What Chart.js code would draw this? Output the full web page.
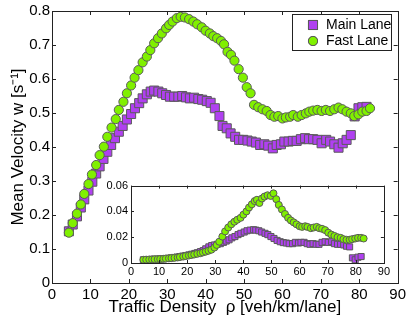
<!DOCTYPE html>
<html><head><meta charset="utf-8">
<script src="https://cdn.jsdelivr.net/npm/chart.js@4/dist/chart.umd.min.js"></script>
<style>
html,body{margin:0;padding:0;background:#fff;}
#wrap{position:relative;width:409px;height:321px;overflow:hidden;}
#main{position:absolute;left:0;top:0;}
#inset{position:absolute;left:96px;top:176px;}
</style></head><body>
<div id="wrap"><canvas id="main" width="409" height="321"></canvas><canvas id="inset" width="296" height="103"></canvas></div>
<script>
const seriesNames = ['Main Lane', 'Fast Lane'];
const xTicks = [0,10,20,30,40,50,60,70,80,90];
const xLabels = ['0','10','20','30','40','50','60','70','80','90'];
const yTicksMain = [0,0.1,0.2,0.3,0.4,0.5,0.6,0.7,0.8];
const yLabelsMain = ['0','0.1','0.2','0.3','0.4','0.5','0.6','0.7','0.8'];
const yTicksInset = [0,0.02,0.04,0.06];
const yLabelsInset = ['0','0.02','0.04','0.06'];

const rhoMain = [4.4,5.4,6.5,7.5,8.4,9.5,10.5,11.5,12.4,13.4,14.4,15.4,16.4,17.4,18.4,19.5,20.6,21.6,22.7,23.6,24.7,25.7,26.6,27.7,28.7,29.7,30.7,31.8,32.9,33.9,34.9,35.9,37.0,38.1,39.1,40.3,41.3,42.4,43.6,44.4,45.5,46.5,47.7,48.7,49.8,50.9,52.0,53.1,54.2,55.3,56.3,57.5,58.5,59.6,60.5,61.6,62.7,63.7,64.8,65.9,66.9,68.0,69.1,70.2,71.4,72.4,73.5,74.6,75.7,76.7,77.8,78.8,79.8,80.8,81.9];
const mainLane = [0.152,0.172,0.196,0.222,0.246,0.272,0.298,0.322,0.343,0.365,0.386,0.406,0.426,0.445,0.462,0.481,0.497,0.514,0.529,0.543,0.555,0.563,0.566,0.563,0.558,0.553,0.548,0.548,0.548,0.550,0.546,0.543,0.545,0.541,0.539,0.535,0.530,0.514,0.491,0.462,0.455,0.440,0.430,0.421,0.421,0.419,0.416,0.413,0.406,0.408,0.404,0.396,0.406,0.408,0.416,0.416,0.418,0.418,0.423,0.426,0.423,0.423,0.421,0.411,0.421,0.416,0.408,0.398,0.411,0.421,0.435,0.490,0.514,0.517,0.518];
const mainLaneInset = [0.0025,0.0026,0.0027,0.0028,0.0029,0.0030,0.0031,0.0033,0.0035,0.0037,0.0040,0.0043,0.0046,0.0050,0.0054,0.0058,0.0063,0.0068,0.0074,0.0080,0.0088,0.0096,0.0110,0.0125,0.0135,0.0140,0.0145,0.0150,0.0160,0.0170,0.0180,0.0195,0.0205,0.0220,0.0230,0.0240,0.0250,0.0255,0.0258,0.0255,0.0250,0.0240,0.0230,0.0220,0.0205,0.0190,0.0175,0.0165,0.0158,0.0155,0.0150,0.0150,0.0160,0.0155,0.0160,0.0160,0.0150,0.0145,0.0150,0.0145,0.0145,0.0160,0.0165,0.0160,0.0165,0.0150,0.0145,0.0145,0.0140,0.0130,0.0125,0.0040,0.0025,0.0045,0.0050];

const rhoFast = [4.4,5.4,6.5,7.5,8.4,9.5,10.4,11.5,12.4,13.5,14.4,15.5,16.6,17.4,18.6,19.5,20.6,21.5,22.5,23.6,24.7,25.6,26.6,27.6,28.6,29.7,30.5,31.4,32.5,33.5,34.6,35.7,36.8,37.8,39.0,40.0,41.1,42.0,43.0,44.0,44.8,45.7,46.6,47.5,48.6,49.7,50.7,51.7,52.6,53.7,54.8,55.9,56.9,57.9,58.9,60.0,60.9,62.0,62.8,64.0,65.0,66.1,67.0,68.0,69.1,70.2,71.3,72.4,73.5,74.6,75.6,76.7,77.8,78.7,79.8,80.8,81.9,82.8];
const fastLane = [0.148,0.176,0.204,0.231,0.262,0.291,0.319,0.347,0.376,0.401,0.430,0.457,0.482,0.509,0.533,0.558,0.581,0.604,0.626,0.649,0.666,0.685,0.705,0.720,0.734,0.749,0.759,0.769,0.779,0.783,0.781,0.776,0.769,0.761,0.752,0.742,0.734,0.726,0.720,0.712,0.702,0.680,0.671,0.654,0.629,0.604,0.576,0.558,0.524,0.517,0.511,0.506,0.494,0.489,0.491,0.484,0.487,0.489,0.494,0.489,0.494,0.499,0.504,0.507,0.509,0.506,0.509,0.506,0.511,0.516,0.511,0.504,0.499,0.491,0.496,0.504,0.506,0.514];
const fastLaneInset = [0.0025,0.0026,0.0027,0.0028,0.0029,0.0030,0.0031,0.0032,0.0034,0.0036,0.0038,0.0040,0.0043,0.0046,0.0050,0.0054,0.0058,0.0062,0.0066,0.0071,0.0076,0.0082,0.0088,0.0095,0.0103,0.0120,0.0140,0.0165,0.0205,0.0245,0.0275,0.0300,0.0320,0.0335,0.0350,0.0375,0.0400,0.0430,0.0455,0.0480,0.0490,0.0465,0.0500,0.0515,0.0525,0.0520,0.0540,0.0495,0.0450,0.0415,0.0380,0.0350,0.0330,0.0315,0.0300,0.0285,0.0280,0.0285,0.0280,0.0270,0.0275,0.0280,0.0270,0.0265,0.0255,0.0235,0.0220,0.0210,0.0200,0.0195,0.0185,0.0180,0.0180,0.0185,0.0190,0.0195,0.0195,0.0190];

const PURPLE = '#b040f0', GREEN = '#80f000', EDGE = '#5a5a5a', AXIS = '#222';
const FONT = "'Liberation Sans', Arial, Helvetica, sans-serif";

const pts = (xs, ys) => xs.map((x, i) => ({x: x, y: ys[i]}));

const boxTicks = {
  id: 'boxTicks',
  afterDatasetsDraw(chart, args, opts) {
    const {ctx, chartArea: a, scales: {x, y}} = chart;
    const L = opts.len;
    ctx.save();
    ctx.strokeStyle = AXIS; ctx.lineWidth = 1;
    ctx.beginPath();
    x.ticks.forEach(t => {
      const p = Math.round(x.getPixelForValue(t.value)) + 0.5;
      ctx.moveTo(p, a.bottom); ctx.lineTo(p, a.bottom - L);
      ctx.moveTo(p, a.top); ctx.lineTo(p, a.top + L);
    });
    y.ticks.forEach(t => {
      const p = Math.round(y.getPixelForValue(t.value)) + 0.5;
      ctx.moveTo(a.left, p); ctx.lineTo(a.left + L, p);
      ctx.moveTo(a.right, p); ctx.lineTo(a.right - L, p);
    });
    ctx.stroke();
    ctx.strokeRect(Math.round(a.left) + 0.5, Math.round(a.top) + 0.5, Math.round(a.right - a.left), Math.round(a.bottom - a.top));
    ctx.restore();
  }
};

const whiteArea = {
  id: 'whiteArea',
  beforeDraw(chart) {
    const {ctx, chartArea: a} = chart;
    ctx.save(); ctx.fillStyle = '#fff';
    ctx.fillRect(a.left, a.top, a.right - a.left, a.bottom - a.top);
    ctx.restore();
  }
};

const boxLegend = {
  id: 'boxLegend',
  afterDraw(chart, args, o) {
    const {ctx} = chart;
    ctx.save();
    ctx.fillStyle = '#fff'; ctx.strokeStyle = AXIS; ctx.lineWidth = 1;
    ctx.fillRect(o.x, o.y, o.w, o.h);
    ctx.strokeRect(o.x + 0.5, o.y + 0.5, o.w, o.h);
    ctx.font = '14px ' + FONT; ctx.textBaseline = 'middle'; ctx.fillStyle = '#000';
    chart.data.datasets.forEach((ds, i) => {
      const cy = o.y + o.row0 + i * o.rowH;
      const cx = o.x + o.mark;
      Chart.helpers.drawPoint(ctx, {pointStyle: ds.pointStyle, radius: ds.pointRadius, borderWidth: 1, rotation: 0}, cx, cy);
      ctx.fillStyle = ds.backgroundColor; ctx.strokeStyle = ds.borderColor;
      ctx.fill(); ctx.stroke();
      ctx.fillStyle = '#000';
      ctx.fillText(ds.label, o.x + o.text, cy + 0.5);
    });
    ctx.restore();
  }
};

function scaleOpts(ticks, labels, min, max, fontSize, pad, fitProp, fitVal, title) {
  return {
    type: 'linear', min: min, max: max,
    grid: {display: false, drawTicks: false},
    border: {display: false},
    afterBuildTicks: s => { s.ticks = ticks.map(v => ({value: v})); },
    afterFit: s => { s[fitProp] = fitVal; },
    ticks: {
      autoSkip: false, padding: pad, color: '#000', maxRotation: 0,
      font: {family: FONT, size: fontSize},
      callback: (v) => { const i = ticks.findIndex(t => Math.abs(t - v) < 1e-9); return i >= 0 ? labels[i] : ''; }
    },
    title: title || {display: false}
  };
}

new Chart(document.getElementById('main'), {
  type: 'scatter',
  data: {
    datasets: [
      {label: seriesNames[1], data: pts(rhoFast, fastLane), pointStyle: 'circle', pointRadius: 4.6,
       backgroundColor: GREEN, borderColor: EDGE, borderWidth: 1, order: 1},
      {label: seriesNames[0], data: pts(rhoMain, mainLane), pointStyle: 'rect', pointRadius: 6.4,
       backgroundColor: PURPLE, borderColor: EDGE, borderWidth: 1, order: 2}
    ]
  },
  options: {
    responsive: false, animation: false, devicePixelRatio: 1,
    layout: {padding: {left: 0, right: 11, top: 11, bottom: 0}},
    plugins: {legend: {display: false}, tooltip: {enabled: false},
      boxTicks: {len: 4},
      boxLegend: {x: 292, y: 14, w: 99, h: 36, mark: 21, text: 34, row0: 11, rowH: 16}},
    scales: {
      x: scaleOpts(xTicks, xLabels, 0, 90, 15, 3, 'height', 38,
        {display: true, text: 'Traffic Density  ρ [veh/km/lane]', color: '#000', font: {family: FONT, size: 17}, padding: {top: 0, bottom: 3}}),
      y: scaleOpts(yTicksMain, yLabelsMain, 0, 0.8, 15, 2, 'width', 52,
        {display: true, text: 'Mean Velocity w [s⁻¹]', color: '#000', font: {family: FONT, size: 17}, padding: {top: 8, bottom: 0}})
    }
  },
  plugins: [boxTicks, {
    id: 'legendWrap',
    afterDraw(chart) {
      // legend order as in reference: Main Lane first, then Fast Lane
      const o = chart.options.plugins.boxLegend;
      const fake = {ctx: chart.ctx, data: {datasets: [chart.data.datasets[1], chart.data.datasets[0]]}};
      boxLegend.afterDraw(fake, null, o);
    }
  }]
});

new Chart(document.getElementById('inset'), {
  type: 'scatter',
  data: {
    datasets: [
      {label: seriesNames[1], data: pts(rhoFast, fastLaneInset), pointStyle: 'circle', pointRadius: 3.5,
       backgroundColor: GREEN, borderColor: EDGE, borderWidth: 1, order: 1},
      {label: seriesNames[0], data: pts(rhoMain, mainLaneInset), pointStyle: 'rect', pointRadius: 4.3,
       backgroundColor: PURPLE, borderColor: EDGE, borderWidth: 1, order: 2}
    ]
  },
  options: {
    responsive: false, animation: false, devicePixelRatio: 1,
    layout: {padding: {left: 0, right: 7, top: 7, bottom: 0}},
    plugins: {legend: {display: false}, tooltip: {enabled: false}, boxTicks: {len: 3}},
    scales: {
      x: scaleOpts(xTicks, xLabels, 0, 90, 11, 2, 'height', 16),
      y: scaleOpts(yTicksInset, yLabelsInset, 0, 0.06, 11, 3, 'width', 35)
    }
  },
  plugins: [whiteArea, boxTicks]
});
</script>
</body></html>
